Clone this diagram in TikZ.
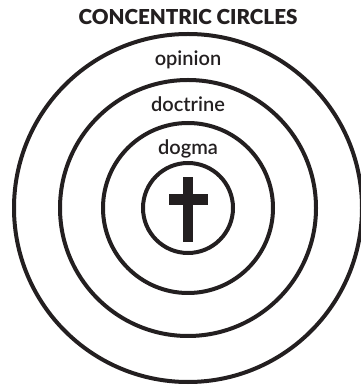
\documentclass[tikz,border=0pt]{standalone}
\usepackage{fontspec}
\setmainfont{Lato}
\newfontfamily\titlefont{Lato Black}
\newfontfamily\labelfont{Lato Semibold}
\definecolor{ink}{RGB}{35,31,32}

\begin{document}
\begin{tikzpicture}[x=1pt, y=1pt, every node/.style={font=\labelfont\fontsize{20}{24}\selectfont, text=ink, inner sep=0pt}]
  \useasboundingbox (0,0) rectangle (360,385);

  % kružnice
  \draw[ink, line width=4pt] (188,177) circle (174);
  \draw[ink, line width=4pt] (188,177) circle (128);
  \draw[ink, line width=4pt] (188,177) circle (85);
  \draw[ink, line width=4pt] (188,177) circle (45);

  % kříž
  \fill[ink] (183,143) rectangle (193,208);
  \fill[ink] (169,180) rectangle (208,191);

  % nadpis
  \node[anchor=base, font=\titlefont\fontsize{20.6}{24}\selectfont] (title) at (188,360) {CONCENTRIC CIRCLES};

  % popisky
  \node[anchor=base] (opinion) at (188,319) {opinion};
  \node[anchor=base] (doctrine) at (188,273) {doctrine};
  \node[anchor=base] (dogma) at (188,230) {dogma};
\end{tikzpicture}
\end{document}
